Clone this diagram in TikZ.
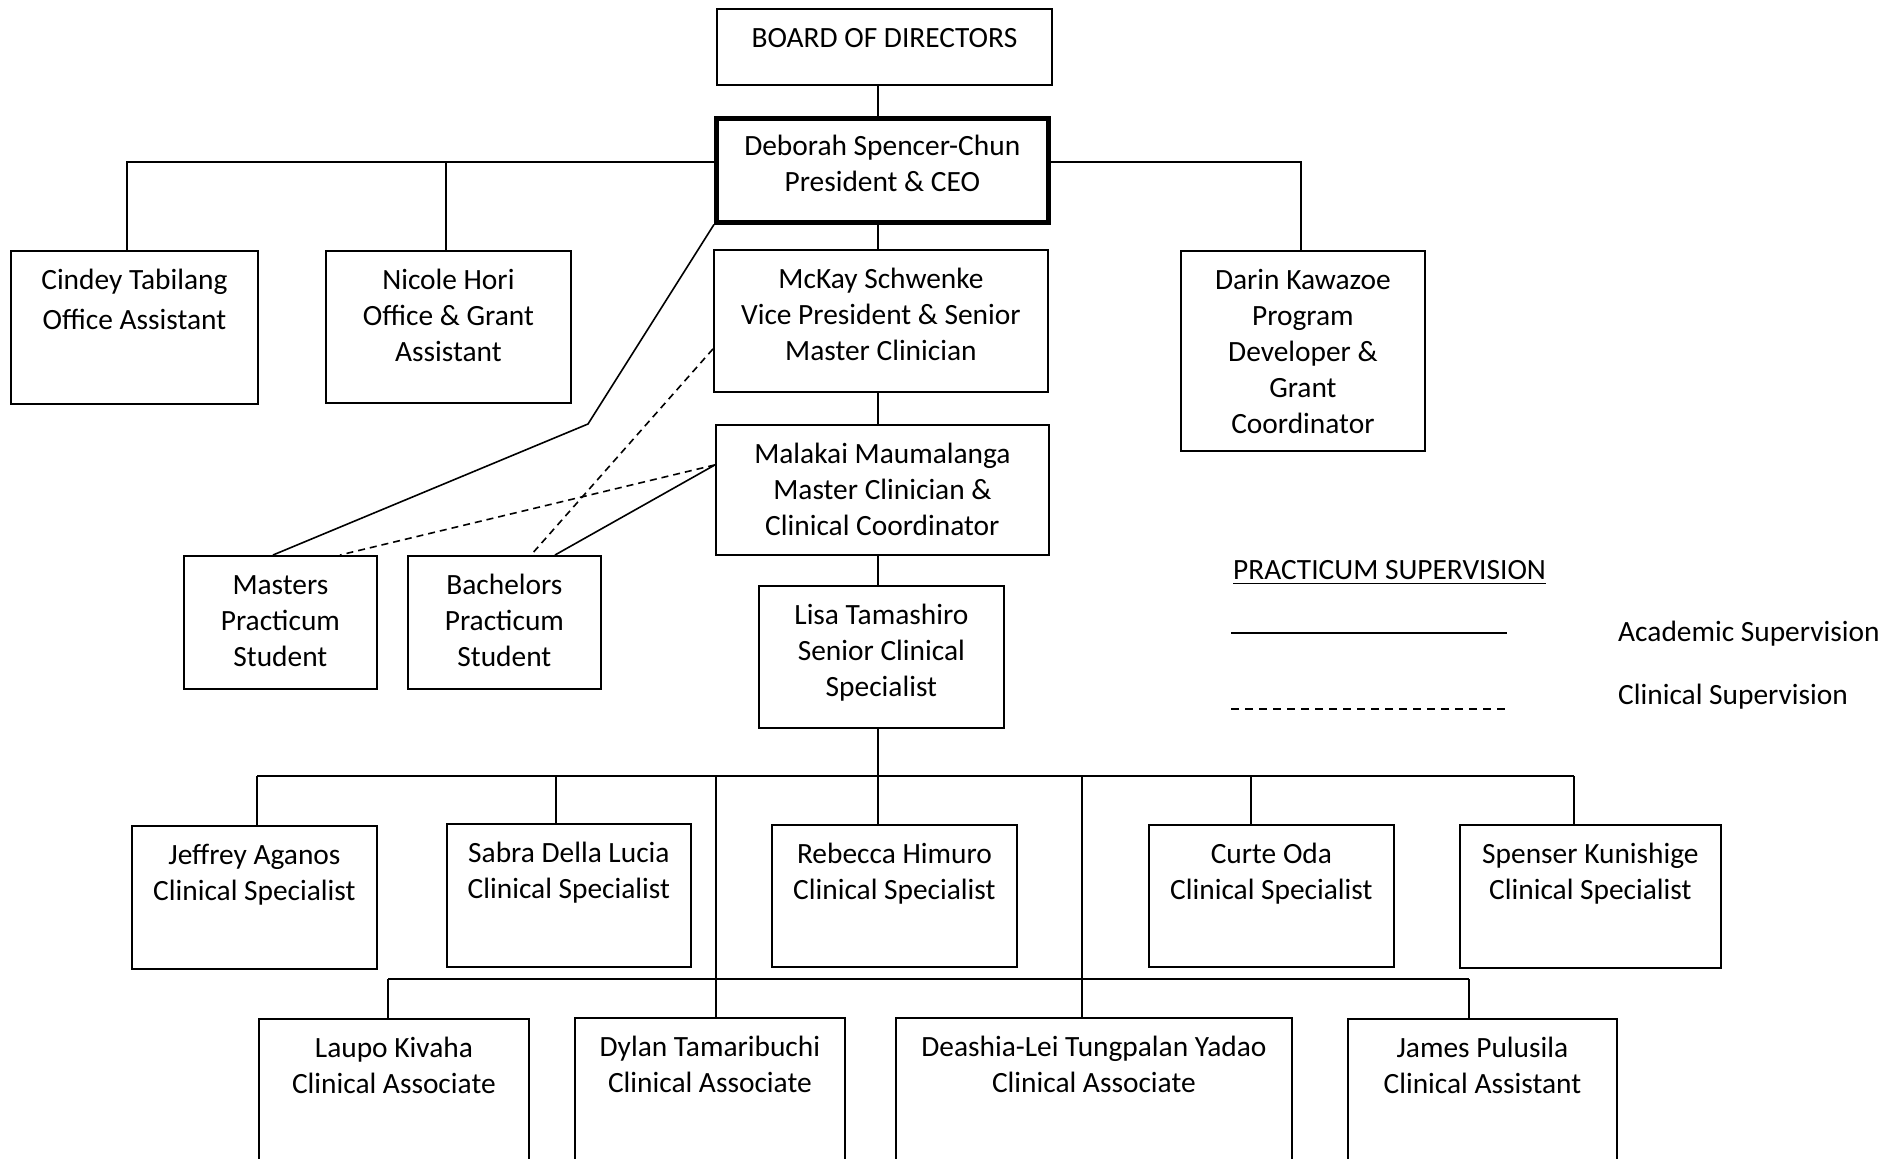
\documentclass[tikz,border=0pt]{standalone}
\usepackage{fontspec}
\setmainfont{Carlito}
\usetikzlibrary{calc}
\tikzset{
  bx/.style={draw, rectangle, line width=1.8pt, inner sep=0pt, anchor=north west},
  txt/.style={inner sep=0pt, anchor=north, align=center, font=\fontsize{29.4}{36}\selectfont},
  lg/.style={inner sep=0pt, font=\fontsize{29.4}{36}\selectfont},
  ln/.style={line width=1.6pt},
  dl/.style={line width=1.6pt, dash pattern=on 7pt off 5pt},
  legdash/.style={line width=1.4pt, dash pattern=on 8pt off 6pt}
}
\newcommand{\obox}[7][]{%
  \node[bx,#1,minimum width={#5-#3},minimum height={#6-#4}] (#2) at (#3,#4) {};
  \node[txt] (#2t) at ([yshift=-14.3pt]#2.north) {\strut #7};}
\begin{document}
\begin{tikzpicture}[x=1pt,y=-1pt]
\useasboundingbox (0,0) rectangle (1883,1159);
\clip (0,0) rectangle (1883,1159);
\fill[white] (0,0) rectangle (1883,1159);

\obox{board}{716}{8}{1051}{84}{BOARD OF DIRECTORS}
\obox[line width=4.5pt]{ceo}{714}{116}{1046}{220}{Deborah Spencer-Chun\\President \& CEO}
\obox{cindey}{10}{250}{257}{403}{Cindey Tabilang\\[4pt]Office Assistant}
\obox{nicole}{325}{250}{570}{402}{Nicole Hori\\Office \& Grant\\Assistant}
\obox{mckay}{713}{249}{1047}{391}{McKay Schwenke\\Vice President \& Senior\\Master Clinician}
\obox{darin}{1180}{250}{1424}{450}{Darin Kawazoe\\Program\\Developer \&\\Grant\\Coordinator}
\obox{malakai}{715}{424}{1048}{554}{Malakai Maumalanga\\Master Clinician \&\\Clinical Coordinator}
\obox{masters}{183}{555}{376}{688}{Masters\\Practicum\\Student}
\obox{bachelors}{407}{555}{600}{688}{Bachelors\\Practicum\\Student}
\obox{lisa}{758}{585}{1003}{727}{Lisa Tamashiro\\Senior Clinical\\Specialist}
\obox{jeffrey}{131}{825}{376}{968}{Jeffrey Aganos\\Clinical Specialist}
\obox{sabra}{446}{823}{690}{966}{Sabra Della Lucia\\Clinical Specialist}
\obox{rebecca}{771}{824}{1016}{966}{Rebecca Himuro\\Clinical Specialist}
\obox{curte}{1148}{824}{1393}{966}{Curte Oda\\Clinical Specialist}
\obox{spenser}{1459}{824}{1720}{967}{Spenser Kunishige\\Clinical Specialist}
\obox{laupo}{258}{1018}{528}{1200}{Laupo Kivaha\\Clinical Associate}
\obox{dylan}{574}{1017}{844}{1200}{Dylan Tamaribuchi\\Clinical Associate}
\obox{deashia}{895}{1017}{1291}{1200}{Deashia-Lei Tungpalan Yadao\\Clinical Associate}
\obox{james}{1347}{1018}{1616}{1200}{James Pulusila\\Clinical Assistant}

% main column
\coordinate (col) at (878,0);
\draw[ln] (board.south -| col) -- (ceo.north -| col);
\draw[ln] (ceo.south -| col) -- (mckay.north -| col);
\draw[ln] (mckay.south -| col) -- (malakai.north -| col);
\draw[ln] (malakai.south -| col) -- (lisa.north -| col);

% CEO staff line
\coordinate (c1) at (127,162);
\coordinate (c2) at (446,162);
\coordinate (c3) at (1301,162);
\draw[ln] (cindey.north -| c1) -- (c1) -- (ceo.west |- c1);
\draw[ln] (nicole.north -| c2) -- (c2);
\draw[ln] (ceo.east |- c3) -- (c3) -- (darin.north -| c3);

% specialists bus
\coordinate (s1) at (257,776);
\coordinate (s2) at (556,776);
\coordinate (s4) at (1251,776);
\coordinate (s5) at (1574,776);
\coordinate (t1) at (716,776);
\coordinate (t2) at (1082,776);
\draw[ln] (s1) -- (s5);
\draw[ln] (lisa.south -| col) -- (col |- s1);
\draw[ln] (s1) -- (jeffrey.north -| s1);
\draw[ln] (s2) -- (sabra.north -| s2);
\draw[ln] (col |- s1) -- (rebecca.north -| col);
\draw[ln] (s4) -- (curte.north -| s4);
\draw[ln] (s5) -- (spenser.north -| s5);
\draw[ln] (t1) -- (dylan.north -| t1);
\draw[ln] (t2) -- (deashia.north -| t2);

% associates bus
\coordinate (a1) at (388,979);
\coordinate (a4) at (1469,979);
\draw[ln] (a1) -- (a4);
\draw[ln] (a1) -- (laupo.north -| a1);
\draw[ln] (a4) -- (james.north -| a4);

% practicum supervision
\coordinate (kink) at (588,424);
\coordinate (mA) at (273,0);
\coordinate (mB) at (340,0);
\coordinate (bA) at (531,0);
\coordinate (bB) at (555,0);
\draw[ln] (ceo.south west) -- (kink) -- (masters.north -| mA);
\draw[dl] ([yshift=-28pt]mckay.west) -- (bachelors.north -| bA);
\draw[dl] ([yshift=25pt]malakai.west) -- (masters.north -| mB);
\draw[ln] ([yshift=25pt]malakai.west) -- (bachelors.north -| bB);

% legend
\node[lg, anchor=west] (legt) at (1233,570) {PRACTICUM SUPERVISION};
\draw[line width=1.4pt] ([yshift=-4pt]legt.base west) -- ([yshift=-4pt]legt.base east);
\coordinate (l1) at (1231,633);
\coordinate (l2) at (1507,633);
\coordinate (l3) at (1231,709);
\coordinate (l4) at (1507,709);
\draw[ln] (l1) -- (l2);
\draw[legdash] (l3) -- (l4);
\node[lg, anchor=west] (acad) at (1618,634) {Academic Supervision};
\node[lg, anchor=west] (clin) at (1618,697) {Clinical Supervision};
\end{tikzpicture}
\end{document}
